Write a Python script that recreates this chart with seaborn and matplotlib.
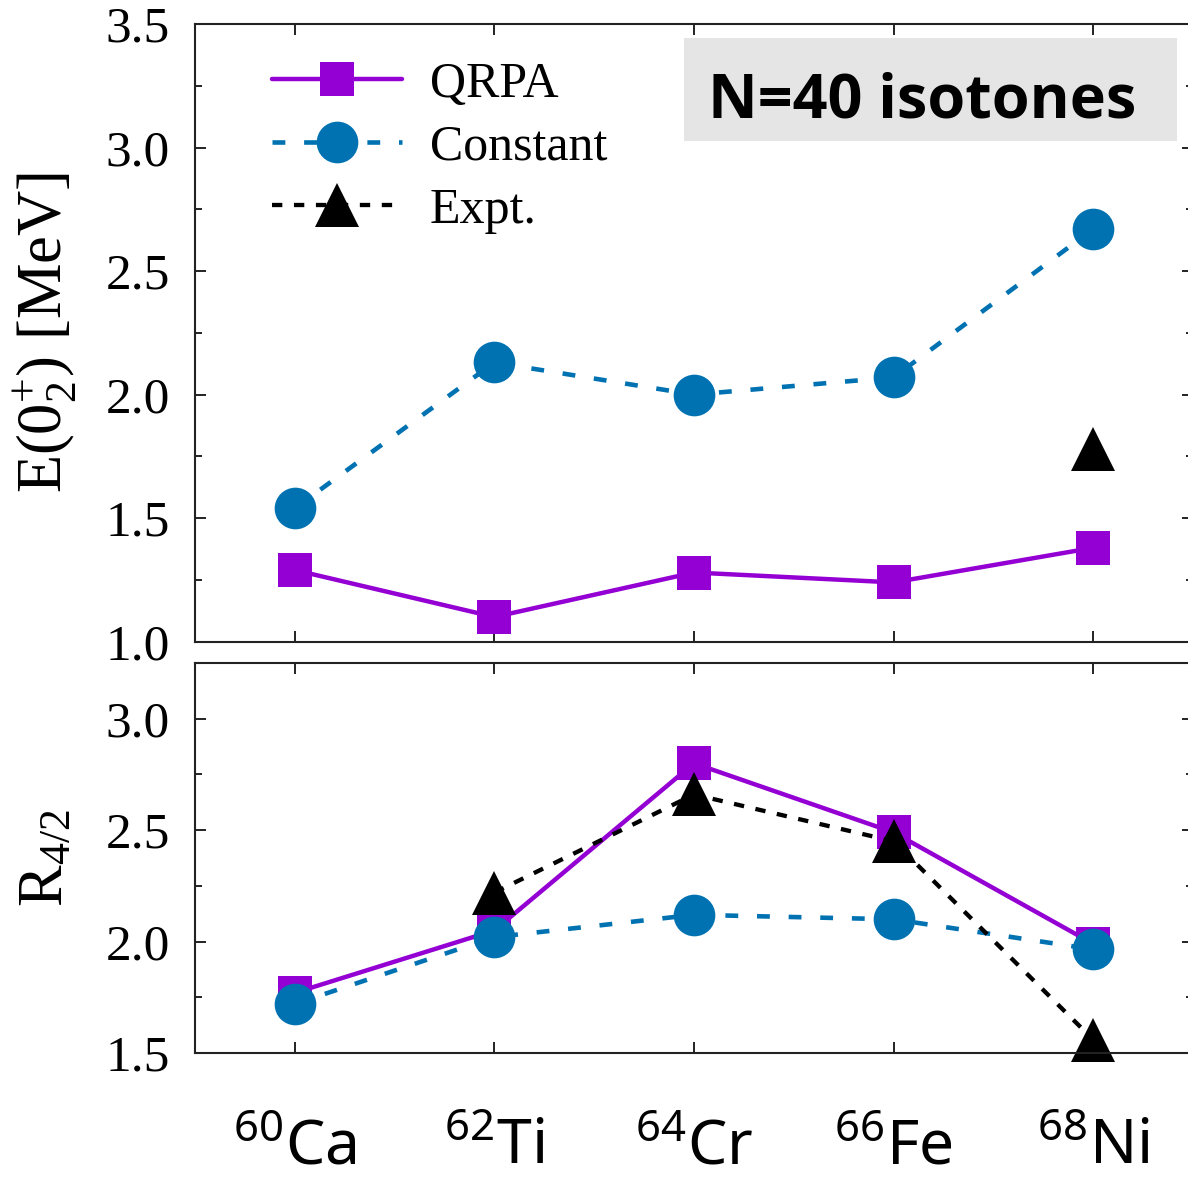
import numpy as np
import pandas as pd
import matplotlib
matplotlib.use("Agg")
import matplotlib.pyplot as plt
from matplotlib.patches import Rectangle
from matplotlib.ticker import MultipleLocator, FormatStrFormatter
import seaborn as sns

# N = 40 isotones
mass_numbers = [60, 62, 64, 66, 68]
elements = ["Ca", "Ti", "Cr", "Fe", "Ni"]

# Excitation energy of the second 0+ state [MeV]
e02_qrpa = [1.29, 1.10, 1.28, 1.24, 1.38]
e02_const = [1.54, 2.13, 2.00, 2.07, 2.67]
e02_expt = [np.nan, np.nan, np.nan, np.nan, 1.78]

# Energy ratio R_4/2 = E(4+)/E(2+)
r42_qrpa = [1.77, 2.05, 2.80, 2.49, 1.99]
r42_const = [1.72, 2.02, 2.12, 2.10, 1.965]
r42_expt = [np.nan, 2.22, 2.66, 2.45, 1.56]

series_labels = ["QRPA", "Constant", "Expt."]

sns.set_theme(style="ticks")
plt.rcParams.update({
    "font.family": ["Liberation Serif", "DejaVu Serif"],
    "mathtext.fontset": "custom",
    "mathtext.rm": "Liberation Serif",
    "mathtext.it": "Liberation Serif:italic",
    "mathtext.bf": "Liberation Serif:bold",
    "mathtext.sf": "Noto Sans",
    "text.color": "black",
    "axes.labelcolor": "black",
    "axes.edgecolor": "#222222",
    "axes.linewidth": 1.5,
    "xtick.color": "#222222",
    "ytick.color": "#222222",
    "xtick.labelcolor": "black",
    "ytick.labelcolor": "black",
})

PURPLE = "#9400D3"
BLUE = "#0072B2"
BLACK = "#000000"

styles = {
    "QRPA": dict(color=PURPLE, marker="s", markersize=25, linewidth=3.2,
                 linestyle="-"),
    "Constant": dict(color=BLUE, marker="o", markersize=30, linewidth=3.3,
                     linestyle=(0, (2.8, 4.1))),
    "Expt.": dict(color=BLACK, marker="^", markersize=31, linewidth=3.1,
                  linestyle=(0, (2.4, 2.7))),
}

positions = np.arange(len(elements))

fig = plt.figure(figsize=(11.88, 11.79), dpi=100)
W, H = 1188, 1179
ax_left = 195 / W
ax_width = (1193 - 195) / W
ax_top = fig.add_axes([ax_left, 1 - 641.7 / H, ax_width, (641.7 - 24) / H])
ax_bot = fig.add_axes([ax_left, 1 - 1053 / H, ax_width, (1053 - 663) / H])


def draw_series(ax, values, name):
    df = pd.DataFrame({"x": positions, "y": values}).dropna()
    st = styles[name]
    sns.lineplot(data=df, x="x", y="y", ax=ax, label=name, legend=False,
                 color=st["color"], marker=st["marker"],
                 markersize=st["markersize"], linewidth=st["linewidth"],
                 linestyle=st["linestyle"], markeredgewidth=0,
                 markeredgecolor=st["color"], markerfacecolor=st["color"],
                 clip_on=False)


for name, vals in zip(series_labels, [e02_qrpa, e02_const, e02_expt]):
    draw_series(ax_top, vals, name)
for name, vals in zip(series_labels, [r42_qrpa, r42_const, r42_expt]):
    draw_series(ax_bot, vals, name)

tick_font = 37
for ax in (ax_top, ax_bot):
    ax.set_xlim(-0.5, 4.5)
    ax.set_xticks(positions)
    ax.yaxis.set_major_locator(MultipleLocator(0.5))
    ax.yaxis.set_minor_locator(MultipleLocator(0.25))
    ax.yaxis.set_major_formatter(FormatStrFormatter("%.1f"))
    ax.tick_params(which="both", direction="in", top=True, right=True,
                   width=1.4)
    ax.tick_params(which="major", length=8)
    ax.tick_params(which="minor", length=5)
    ax.tick_params(axis="y", labelsize=tick_font, pad=18)
    ax.set_xlabel("")

ax_top.set_ylim(1.0, 3.5)
ax_bot.set_ylim(1.5, 3.25)
ax_top.tick_params(axis="x", labelbottom=False)

xlabels = [r"$\mathsf{^{%d}%s}$" % (a, el) for a, el in zip(mass_numbers, elements)]
ax_bot.set_xticklabels(xlabels)
ax_bot.tick_params(axis="x", labelsize=45, pad=48)

ax_top.set_ylabel(r"E($0^{+}_{2}$) [MeV]", fontsize=45)
ax_bot.set_ylabel(r"R$_{\mathit{4/2}}$", fontsize=45)
for ax in (ax_top, ax_bot):
    ax.yaxis.label.set_verticalalignment("baseline")
    ax.yaxis.set_label_coords(-0.133, 0.5)

leg = ax_top.legend(loc="upper left", bbox_to_anchor=(0.077, 0.940),
                    frameon=False, fontsize=36, handlelength=2.6,
                    handletextpad=0.56, labelspacing=0.33, borderpad=0,
                    borderaxespad=0, numpoints=1)

ax_top.add_patch(Rectangle((0.490, 0.810), 0.494, 0.167,
                           transform=ax_top.transAxes, facecolor="#e5e5e5",
                           edgecolor="none", zorder=1))
ax_top.text(0.729, 0.849, "N=40 isotones", transform=ax_top.transAxes,
            ha="center", va="baseline", fontsize=44, fontweight="bold",
            color="black", family=["Open Sans", "Lato", "DejaVu Sans"],
            zorder=2)

fig.savefig("out.png", dpi=100)
